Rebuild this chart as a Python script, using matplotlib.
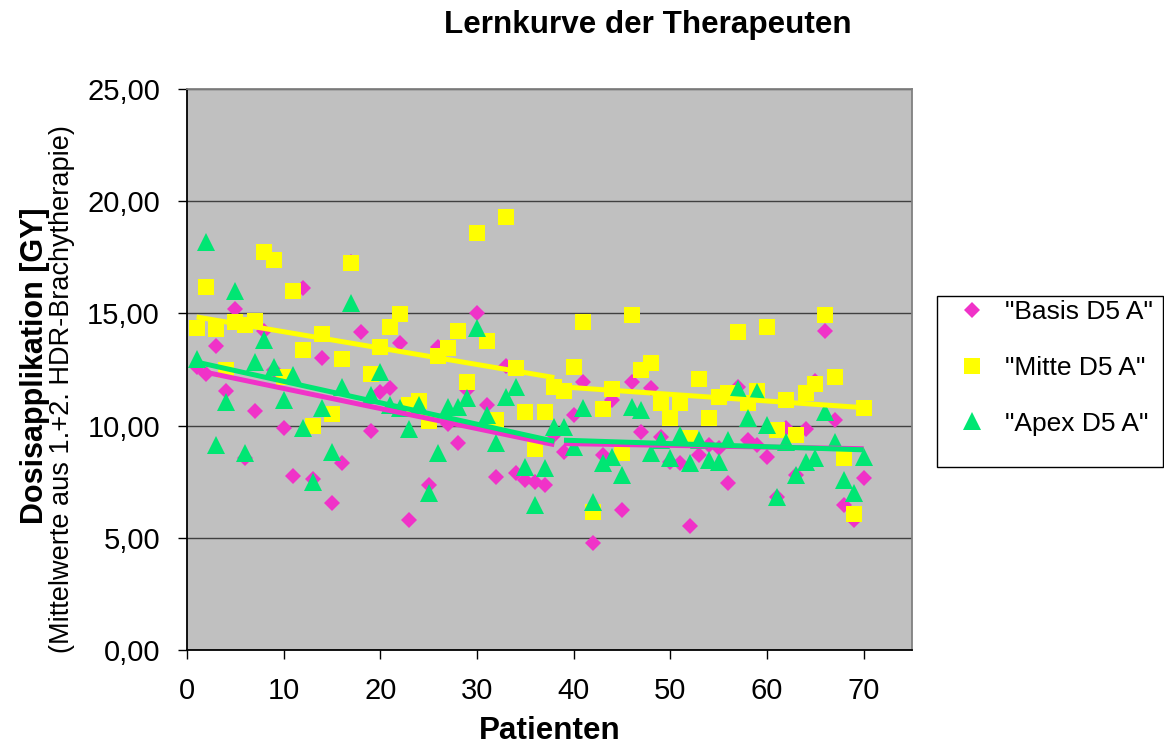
import numpy as np
import matplotlib
matplotlib.use('Agg')
import matplotlib.pyplot as plt
from matplotlib.ticker import FuncFormatter, MultipleLocator
from matplotlib.patches import Rectangle
from matplotlib.lines import Line2D

# ---------------- data ----------------
patients = list(range(1, 71))

basis = [12.6, 12.3, 13.56, 11.56, 15.2, 8.54, 10.66, 14.2, 12.5, 9.91,
         7.75, 16.15, 7.6, 13.0, 6.56, 8.32, 17.3, 14.16, 9.76, 11.51,
         11.69, 13.67, 5.79, 10.9, 7.35, 13.5, 10.07, 9.24, 11.59, 15.0,
         10.92, 7.72, 12.67, 7.87, 7.58, 7.5, 7.35, 9.6, 8.84, 10.47,
         11.96, 4.78, 8.69, 11.14, 6.24, 11.96, 9.73, 11.66, 9.48, 8.39,
         8.32, 5.53, 8.69, 9.14, 8.99, 7.43, 11.73, 9.36, 9.14, 8.61,
         6.8, 9.9, 7.8, 9.83, 12.0, 14.2, 10.25, 6.46, 5.79, 7.65]

mitte = [14.33, 16.16, 14.3, 12.48, 14.6, 14.48, 14.68, 17.75, 17.4, 12.18,
         16.0, 13.37, 10.0, 14.07, 10.5, 12.95, 17.23, np.nan, 12.3, 13.49,
         14.38, 14.96, 10.9, 11.1, 10.2, 13.1, 13.44, 14.2, 11.96, 18.57,
         13.77, 10.25, 19.28, 12.55, 10.59, 8.94, 10.62, 11.73, 11.56, 12.6,
         14.6, 6.16, 10.72, 11.62, 8.77, 14.92, 12.48, 12.78, 10.99, 10.32,
         10.99, 9.43, 12.06, 10.32, 11.29, 11.44, 14.16, 10.99, 11.54, 14.41,
         9.8, 11.14, 9.58, 11.44, 11.84, 14.92, 12.15, 8.54, 6.05, 10.77]

apex = [12.95, 18.2, 9.14, 11.07, 16.0, 8.76, 12.82, 13.8, 12.62, 11.14,
        12.25, 9.88, 7.5, 10.77, 8.84, 11.73, 15.45, np.nan, 11.36, 12.4,
        10.92, 10.77, 9.83, 10.92, 6.98, 8.77, 10.84, 10.84, 11.22, 14.33,
        10.47, 9.21, 11.29, 11.73, 8.17, 6.46, 8.1, 9.95, 9.95, 9.06,
        10.77, 6.61, 8.32, 8.61, 7.8, 10.84, 10.7, 8.77, 9.36, 8.54,
        9.58, 8.32, 9.36, 8.47, 8.39, 9.36, 11.62, 10.32, 11.51, 10.03,
        6.83, 9.28, 7.8, 8.39, 8.54, 10.62, 9.28, 7.58, 6.98, 8.61]

# trend line segments (patients 1-38 and 39-70)
trend_x = [[1, 38], [39, 70]]
basis_trend = [[12.46, 9.15], [9.2, 8.97]]
mitte_trend = [[14.84, 12.14], [11.72, 10.80]]
apex_trend = [[12.83, 9.30], [9.35, 8.92]]

labels = ['"Basis D5 A"', '"Mitte D5 A"', '"Apex D5 A"']
x_ticks = [0, 10, 20, 30, 40, 50, 60, 70]

# ---------------- style ----------------
PINK = '#F032C8'
YELLOW = '#FFFF00'
GREEN = '#00E673'

plt.rcParams['font.family'] = ['Liberation Sans', 'DejaVu Sans']

W, H = 1164, 744
fig = plt.figure(figsize=(W / 100, H / 100), dpi=100)
ax = fig.add_axes([187 / W, 1 - 650 / H, (912 - 187) / W, (650 - 89) / H])
ax.set_facecolor('#C0C0C0')

ax.set_xlim(0, 75)
ax.set_ylim(0, 25)
ax.set_xticks(x_ticks)
ax.yaxis.set_major_locator(MultipleLocator(5))
ax.yaxis.set_major_formatter(FuncFormatter(lambda v, p: f"{v:.2f}".replace('.', ',')))
ax.tick_params(axis='both', direction='out', length=6.5, width=1.0,
               labelsize=21, pad=13, colors='black')
ax.grid(axis='y', color='#404040', linewidth=1.0, zorder=1)
ax.set_axisbelow(True)

for s in ['left', 'bottom']:
    ax.spines[s].set_color('black')
    ax.spines[s].set_linewidth(1.3)
for s in ['top', 'right']:
    ax.spines[s].set_color('#808080')
    ax.spines[s].set_linewidth(1.3)

# markers
ax.plot(patients, basis, linestyle='none', marker='D', markersize=8.6,
        markerfacecolor=PINK, markeredgewidth=0, zorder=3)
ax.plot(patients, mitte, linestyle='none', marker='s', markersize=12.2,
        markerfacecolor=YELLOW, markeredgewidth=0, zorder=3)
ax.plot(patients, apex, linestyle='none', marker='^', markersize=13,
        markerfacecolor=GREEN, markeredgewidth=0, zorder=3)

# trend lines
for seg_x, b, m, a in zip(trend_x, basis_trend, mitte_trend, apex_trend):
    ax.plot(seg_x, m, color=YELLOW, linewidth=3.6, solid_capstyle='butt', zorder=4)
    ax.plot(seg_x, b, color=PINK, linewidth=3.6, solid_capstyle='butt', zorder=4)
    ax.plot(seg_x, a, color=GREEN, linewidth=3.6, solid_capstyle='butt', zorder=5)

# titles / labels
fig.text(647.5 / W, 1 - 33 / H, 'Lernkurve der Therapeuten', ha='center',
         va='baseline', fontsize=22.6, fontweight='bold')
fig.text(549.5 / W, 1 - 739 / H, 'Patienten', ha='center', va='baseline',
         fontsize=22.6, fontweight='bold')
fig.text(43 / W, 1 - 365.5 / H, 'Dosisapplikation [GY]', rotation=90,
         rotation_mode='anchor', ha='center', va='baseline',
         fontsize=22, fontweight='bold')
fig.text(69 / W, 1 - 389 / H, '(Mittelwerte aus 1.+2. HDR-Brachytherapie)',
         rotation=90, rotation_mode='anchor', ha='center', va='baseline',
         fontsize=19.5)

# legend
handles = [
    Line2D([], [], linestyle='none', marker='D', markersize=8.6,
           markerfacecolor=PINK, markeredgewidth=0),
    Line2D([], [], linestyle='none', marker='s', markersize=12.2,
           markerfacecolor=YELLOW, markeredgewidth=0),
    Line2D([], [], linestyle='none', marker='^', markersize=13,
           markerfacecolor=GREEN, markeredgewidth=0),
]
fig.patches.append(Rectangle((937 / W, 1 - 467 / H), (1163 - 937) / W, (467 - 296) / H,
                             transform=fig.transFigure, facecolor='white',
                             edgecolor='black', linewidth=1.0, zorder=0))
fig.legend(handles, labels, loc='center left',
           bbox_to_anchor=(937 / W, 1 - 368 / H), bbox_transform=fig.transFigure,
           frameon=False, fontsize=19, borderpad=0.4, borderaxespad=0,
           handlelength=1.88, handletextpad=0.28, labelspacing=1.2)

fig.savefig('out.png', dpi=100)
